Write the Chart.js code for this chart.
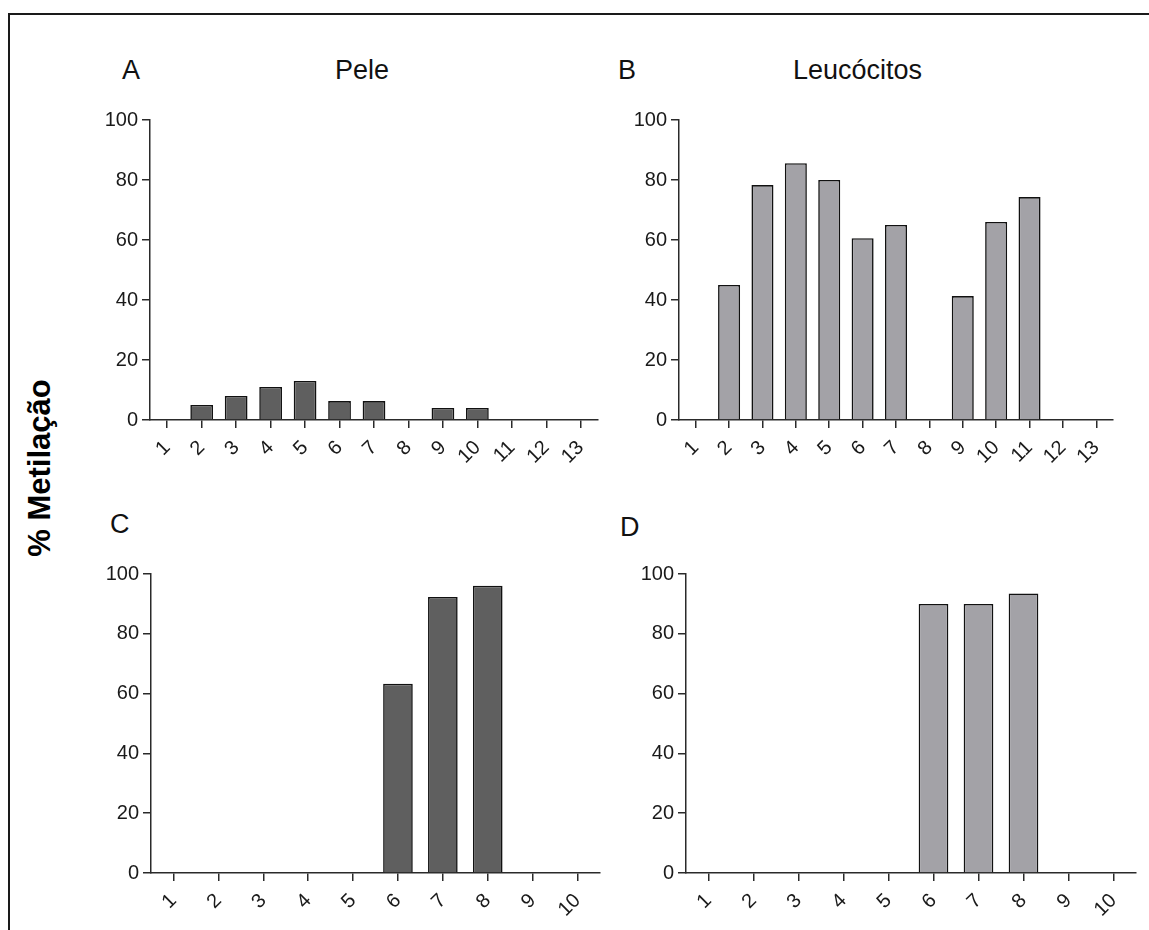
<!DOCTYPE html>
<html>
<head>
<meta charset="utf-8">
<script src="https://cdn.jsdelivr.net/npm/chart.js@4.4.1/dist/chart.umd.min.js"></script>
<style>
  body { margin: 0; background: #fff; width: 1149px; height: 930px; overflow: hidden; position: relative; font-family: "Liberation Sans", Arial, sans-serif; }
  .moldura { position: absolute; left: 8px; top: 13px; width: 1200px; height: 1000px; border-top: 2px solid #1a1a1a; border-left: 2px solid #1a1a1a; }
  .txt { position: absolute; color: #111; font-size: 27px; line-height: 1; white-space: nowrap; }
  .ytitulo { position: absolute; left: 40px; top: 468px; transform: translate(-50%, -50%) rotate(-90deg); font-size: 31px; font-weight: bold; color: #000; white-space: nowrap; }
  canvas { position: absolute; }
</style>
</head>
<body>
<div class="moldura"></div>

<div class="txt" style="left:122px; top:57px;">A</div>
<div class="txt" style="left:335px; top:57px;">Pele</div>
<div class="txt" style="left:618px; top:57px;">B</div>
<div class="txt" style="left:793px; top:57px;">Leucócitos</div>
<div class="txt" style="left:110px; top:511px;">C</div>
<div class="txt" style="left:620px; top:514px;">D</div>
<div class="ytitulo">% Metilação</div>

<canvas id="graficoA" width="543" height="390" style="left:70px; top:100px;"></canvas>
<canvas id="graficoB" width="529" height="390" style="left:599px; top:100px;"></canvas>
<canvas id="graficoC" width="544" height="389" style="left:71px; top:554px;"></canvas>
<canvas id="graficoD" width="545" height="389" style="left:606px; top:554px;"></canvas>

<script>
// regioes analisadas (painel de cima: 13, painel de baixo: 10)
const regioesCima = ['1', '2', '3', '4', '5', '6', '7', '8', '9', '10', '11', '12', '13'];
const regioesBaixo = ['1', '2', '3', '4', '5', '6', '7', '8', '9', '10'];

// % de metilacao por regiao (null = sem barra)
const peleA = [null, 5, 8, 11, 13, 6.3, 6.3, null, 4, 4, null, null, null];
const leucocitosB = [null, 45, 78.3, 85.6, 80, 60.6, 65, null, 41.3, 66, 74.3, null, null];
const peleC = [null, null, null, null, null, 63.3, 92.3, 96.1, null, null];
const leucocitosD = [null, null, null, null, null, 90, 90, 93.5, null, null];

const ticksY = [0, 20, 40, 60, 80, 100];

const corPele = '#5f5f5f';
const corLeuco = '#a3a2a7';
const corLinha = '#2a2a2a';

function criaGrafico(id, labels, valores, cor) {
    return new Chart(id, {
        type: 'bar',
        data: {
            labels: labels,
            datasets: [{
                data: valores,
                backgroundColor: cor,
                borderColor: '#111',
                borderWidth: 1.6,
                borderSkipped: 'bottom',
                barPercentage: 0.66,
                categoryPercentage: 1.0
            }]
        },
        options: {
            responsive: false,
            animation: false,
            devicePixelRatio: 1,
            layout: { padding: { top: 20, right: 15, left: 0, bottom: 0 } },
            plugins: {
                legend: { display: false },
                tooltip: { enabled: false }
            },
            scales: {
                x: {
                    offset: true,
                    grid: { offset: false, drawOnChartArea: false, drawTicks: true, tickLength: 8, color: corLinha, lineWidth: 1.5 },
                    border: { color: corLinha, width: 1.5 },
                    ticks: {
                        autoSkip: false,
                        minRotation: 45, maxRotation: 45, padding: 8,
                        color: '#1a1a1a',
                        font: { family: '"Liberation Sans", Arial, sans-serif', size: 20 }
                    },
                    afterFit: function (s) { s.height = 70; }
                },
                y: {
                    min: 0, max: 100,
                    afterBuildTicks: function (s) { s.ticks = ticksY.map(v => ({ value: v })); },
                    grid: { drawOnChartArea: false, drawTicks: true, tickLength: 8, color: corLinha, lineWidth: 1.5 },
                    border: { color: corLinha, width: 1.5 },
                    ticks: {
                        padding: 4,
                        color: '#1a1a1a',
                        font: { family: '"Liberation Sans", Arial, sans-serif', size: 20 }
                    },
                    afterFit: function (s) { s.width = 80; }
                }
            }
        }
    });
}

criaGrafico('graficoA', regioesCima, peleA, corPele);
criaGrafico('graficoB', regioesCima, leucocitosB, corLeuco);
criaGrafico('graficoC', regioesBaixo, peleC, corPele);
criaGrafico('graficoD', regioesBaixo, leucocitosD, corLeuco);
</script>
</body>
</html>
